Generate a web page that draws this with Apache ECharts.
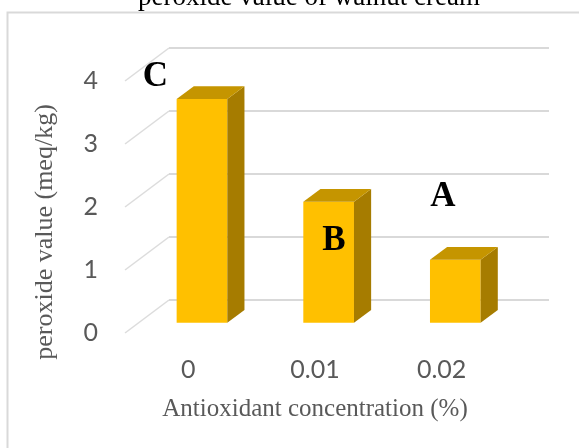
<!DOCTYPE html>
<html>
<head>
<meta charset="utf-8">
<script src="https://cdn.jsdelivr.net/npm/echarts@6/dist/echarts.min.js"></script>
<style>
html, body { margin: 0; padding: 0; background: #fff; }
#chart { width: 579px; height: 448px; }
</style>
</head>
<body>
<div id="chart"></div>
<script>
// antioxidant concentration (%)
const concentrations = ['0', '0.01', '0.02']
// peroxide value (meq/kg)
const peroxide = [3.55, 1.92, 1.0]
// significance letters
const letters = ['C', 'B', 'A']
const yTicks = [0, 1, 2, 3, 4]

// fake 3d: offset of the back wall, and where the bars sit in depth
const DEPTH = [44, -33]
const FRONT = 0.31
const BACK = 0.7
const BAR_W = 0.4

const shift = (p, f) => [p[0] + DEPTH[0] * f, p[1] + DEPTH[1] * f]

const chart = echarts.init(document.getElementById('chart'))

// back wall + side wall grid lines
const renderWall = (params, api) => {
  const p = api.coord([0, api.value(1)])
  const bw = api.size([1, 0])[0]
  const x0 = p[0] - bw / 2
  const x1 = x0 + bw * concentrations.length
  return {
    type: 'group',
    children: [
      {
        type: 'line',
        shape: { x1: x0, y1: p[1], x2: x0 + DEPTH[0], y2: p[1] + DEPTH[1] },
        style: { stroke: '#dcdcdc', lineWidth: 1.5 }
      },
      {
        type: 'line',
        shape: { x1: x0 + DEPTH[0], y1: p[1] + DEPTH[1], x2: x1 + DEPTH[0], y2: p[1] + DEPTH[1] },
        style: { stroke: '#d9d9d9', lineWidth: 2 }
      }
    ]
  }
}

const renderBar = (params, api) => {
  const i = api.value(0)
  const bot = api.coord([i, 0])
  const top = api.coord([i, api.value(1)])
  const hw = api.size([1, 0])[0] * BAR_W / 2
  const fl = shift([bot[0] - hw, bot[1]], FRONT)
  const fr = shift([bot[0] + hw, bot[1]], FRONT)
  const tl = shift([top[0] - hw, top[1]], FRONT)
  const tr = shift([top[0] + hw, top[1]], FRONT)
  const back = p => shift(p, BACK - FRONT)
  return {
    type: 'group',
    children: [
      { type: 'polygon', shape: { points: [fl, fr, tr, tl] }, style: { fill: '#ffc000' } },
      { type: 'polygon', shape: { points: [fr, tr, back(tr), back(fr)] }, style: { fill: '#a67c00' } },
      { type: 'polygon', shape: { points: [tl, tr, back(tr), back(tl)] }, style: { fill: '#c59500' } }
    ]
  }
}

// letter spots: [shift within band, level on the value axis]
const spots = [[-0.26, 4.08], [0.15, 1.48], [0.01, 2.17]]
const renderLetter = (params, api) => {
  const i = params.dataIndex
  const p = api.coord([i, spots[i][1]])
  const bw = api.size([1, 0])[0]
  return {
    type: 'text',
    x: p[0] + spots[i][0] * bw,
    y: p[1] + 1,
    style: {
      text: letters[i],
      fontFamily: 'Liberation Serif',
      fontWeight: 'bold',
      fontSize: 35,
      fill: '#000',
      align: 'center',
      verticalAlign: 'middle'
    }
  }
}

chart.setOption({
  animation: false,
  backgroundColor: '#fff',
  grid: { left: 125, right: 74, top: 81, bottom: 115 },
  xAxis: {
    type: 'category',
    data: concentrations,
    axisLine: { show: false },
    axisTick: { show: false },
    axisLabel: { margin: 24, color: '#595959', fontFamily: 'Lato', fontSize: 25 },
    name: 'Antioxidant concentration (%)',
    nameLocation: 'middle',
    nameGap: 64,
    nameTextStyle: { color: '#595959', fontFamily: 'Liberation Serif', fontSize: 25 }
  },
  yAxis: {
    type: 'value',
    min: 0,
    max: 4,
    interval: 1,
    axisLine: { show: false },
    axisTick: { show: false },
    splitLine: { show: false },
    axisLabel: { margin: 27, color: '#595959', fontFamily: 'Lato', fontSize: 25 }
  },
  graphic: [
    {
      type: 'rect',
      shape: { x: 7.5, y: 12.5, width: 700, height: 500 },
      style: { fill: null, stroke: '#d9d9d9', lineWidth: 2 },
      z: -10
    },
    {
      type: 'text',
      x: 309,
      y: 11,
      style: {
        text: 'peroxide value of walnut cream',
        fontFamily: 'Liberation Serif',
        fontSize: 27,
        fill: '#000',
        align: 'center',
        verticalAlign: 'bottom'
      }
    },
    {
      type: 'text',
      x: 45,
      y: 232,
      rotation: Math.PI / 2,
      style: {
        text: 'peroxide value (meq/kg)',
        fontFamily: 'Liberation Serif',
        fontSize: 26,
        fill: '#595959',
        align: 'center',
        verticalAlign: 'middle'
      }
    }
  ],
  series: [
    {
      type: 'custom',
      renderItem: renderWall,
      data: yTicks.map(v => [0, v]),
      z: 1,
      silent: true
    },
    {
      type: 'custom',
      renderItem: renderBar,
      data: peroxide.map((v, i) => [i, v]),
      z: 2
    },
    {
      type: 'custom',
      renderItem: renderLetter,
      data: letters.map((l, i) => [i, 0]),
      z: 3
    }
  ]
})

window.addEventListener('resize', () => chart.resize())
</script>
</body>
</html>
